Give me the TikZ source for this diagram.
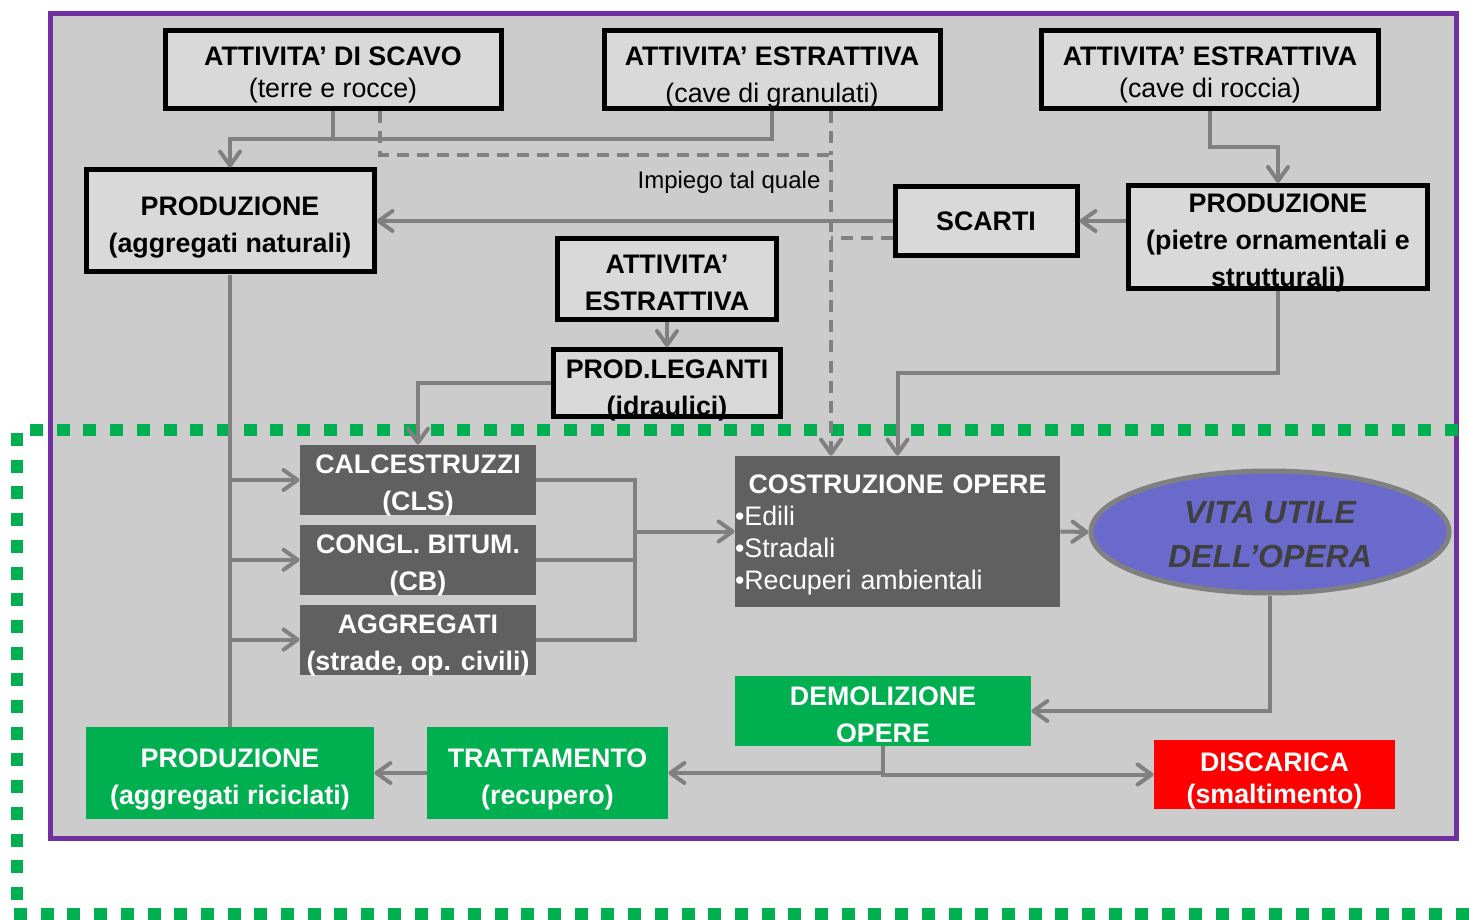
\documentclass[tikz,border=0pt]{standalone}
\usepackage{fontspec}
\setmainfont{Liberation Sans}
\usetikzlibrary{positioning}
\usetikzlibrary{shapes.geometric}
\usetikzlibrary{arrows.meta}

\definecolor{bggray}{HTML}{CCCCCC}
\definecolor{boxgray}{HTML}{D9D9D9}
\definecolor{cementgray}{HTML}{606060}
\definecolor{linegray}{HTML}{808080}
\definecolor{framepurple}{HTML}{7030A0}
\definecolor{recgreen}{HTML}{00B050}
\definecolor{opblue}{HTML}{6A6ACC}
\definecolor{optext}{HTML}{404040}

\begin{document}
\begin{tikzpicture}[x=0.5pt, y=-0.5pt,
        every node/.style={inner sep=0pt, align=center,
                           font=\fontsize{13.4}{18.5}\selectfont\bfseries},
        lightbox/.style={draw=black, line width=2.5pt, fill=boxgray},
        darkbox/.style={fill=cementgray, text=white,
                        text height=30.6pt, text depth=0pt,
                        minimum width=118pt, minimum height=35pt},
        greenbox/.style={fill=recgreen, text=white},
        link/.style={draw=linegray, line width=2pt},
        flow/.style={link, -{Straight Barb[length=7pt,width=10pt,round]}},
        dashlink/.style={link, dash pattern=on 6pt off 4pt},
        dashflow/.style={flow, dash pattern=on 6pt off 4pt},
        greendots/.style={draw=recgreen, line width=6pt,
                          dash pattern=on 6.5pt off 6.85pt}]

        \useasboundingbox (0,0) rectangle (1469,920);
        \draw [framepurple, line width=2.5pt, fill=bggray] (50,14) rectangle (1456,838);

        \draw [greendots] (30,430) -- (1460,430);
        \draw [greendots] (17,433) -- (17,905);
        \draw [greendots] (14,914) -- (1469,914);

        \node (scavo) at (333,70) [lightbox,
                         minimum width=168pt,
                         minimum height=39pt,
                         text height=27.6pt, text depth=0pt,
                         ] {ATTIVITA’ DI SCAVO\\[-2.5pt]\mdseries (terre e rocce)};
        \node (granulati) at (772,70) [lightbox,
                         minimum width=168pt,
                         minimum height=39pt,
                         text height=32.1pt, text depth=0pt,
                         ] {ATTIVITA’ ESTRATTIVA\\\mdseries (cave di granulati)};
        \node (roccia) at (1210,70) [lightbox,
                         minimum width=168.5pt,
                         minimum height=39pt,
                         text height=27.6pt, text depth=0pt,
                         ] {ATTIVITA’ ESTRATTIVA\\[-2.5pt]\mdseries (cave di roccia)};

        \node (prodnat) at (230,221) [lightbox,
                         minimum width=144pt,
                         minimum height=51pt,
                         text height=31.1pt, text depth=0pt,
                         ] {PRODUZIONE\\(aggregati naturali)};
        \node (scarti) at (986,221) [lightbox,
                         minimum width=91pt,
                         minimum height=34.5pt,
                         ] {SCARTI};
        \node (prodpietre) at (1278,237) [lightbox,
                         minimum width=149.5pt,
                         minimum height=51.5pt,
                         text height=49.6pt, text depth=0pt,
                         ] {PRODUZIONE\\(pietre ornamentali e\\strutturali)};
        \node (impiego) at (729,182) [font=\fontsize{12}{14}\selectfont] {Impiego tal quale};

        \node (attestr) at (667,279) [lightbox,
                         minimum width=109.5pt,
                         minimum height=40.5pt,
                         text height=31.6pt, text depth=0pt,
                         ] {ATTIVITA’\\ESTRATTIVA};
        \node (leganti) [lightbox,
                         minimum width=113.5pt,
                         minimum height=33.5pt,
                         below=12.5pt of attestr,
                         text height=32.1pt, text depth=0pt,
                         ] {PROD.LEGANTI\\(idraulici)};

        \node (cls) at (418,480) [darkbox] {CALCESTRUZZI\\(CLS)};
        \node (cb) [darkbox, below=4.5pt of cls] {CONGL. BITUM.\\(CB)};
        \node (aggr) [darkbox, below=4.5pt of cb] {AGGREGATI\\(strade, op. civili)};

        \node (costr) at (897.5,531.5) [fill=cementgray, text=white,
                         minimum width=162.5pt,
                         minimum height=75.5pt,
                         text width=162.5pt, align=left,
                         text height=13pt,
                         font=\fontsize{13.4}{16}\selectfont,
                         ] {\makebox[162.5pt]{\bfseries COSTRUZIONE OPERE}\\•Edili\\•Stradali\\•Recuperi ambientali};
        \node (vita) at (1270,532) [ellipse, draw=linegray, line width=2.5pt,
                         fill=opblue, text=optext,
                         minimum width=179pt,
                         minimum height=61pt,
                         text height=35.5pt, text depth=0pt,
                         font=\fontsize{16}{22}\selectfont\bfseries\itshape,
                         ] {VITA UTILE\\DELL’OPERA};

        \node (demol) at (883,711) [greenbox,
                         minimum width=148pt,
                         minimum height=35pt,
                         text height=31.6pt, text depth=0pt,
                         ] {DEMOLIZIONE\\OPERE};
        \node (discarica) at (1274.5,774.5) [fill=red, text=white,
                         minimum width=120.5pt,
                         minimum height=34.5pt,
                         text height=28.6pt, text depth=0pt,
                         ] {DISCARICA\\[-2.5pt](smaltimento)};
        \node (prodric) at (230,773) [greenbox,
                         minimum width=144pt,
                         minimum height=46pt,
                         text height=31.6pt, text depth=0pt,
                         ] {PRODUZIONE\\(aggregati riciclati)};
        \node (tratt) at (547.5,773) [greenbox,
                         minimum width=120.5pt,
                         minimum height=46pt,
                         text height=31.6pt, text depth=0pt,
                         ] {TRATTAMENTO\\(recupero)};

        \coordinate (j1) at (230,139);
        \draw [link] (scavo.south) -- (scavo.south |- j1);
        \draw [flow] (granulati.south) |- (j1) -- (prodnat.north);

        \coordinate (d1) at (380,155);
        \coordinate (d2) at (831,155);
        \coordinate (d3) at (831,238);
        \draw [dashflow] (scavo.south -| d1) -- (d1) -- (d2) -- (d2 |- costr.north);
        \draw [dashlink] (granulati.south -| d2) -- (d2);
        \draw [dashlink] (d3 -| scarti.west) -- (d3);

        \draw [flow] (scarti.west) -- (prodnat.east);
        \draw [flow] (prodpietre.west |- scarti.east) -- (scarti.east);
        \coordinate (j2) at (1278,147);
        \draw [flow] (roccia.south) |- (j2) -- (prodpietre.north);
        \coordinate (j3) at (897.5,373);
        \draw [flow] (prodpietre.south) |- (j3) -- (costr.north);

        \draw [flow] (attestr) -- (leganti);
        \draw [flow] (leganti.west) -| (cls.north);

        \draw [link] (prodnat.south) -- (prodric.north);
        \foreach \n in {cls, cb, aggr}
            \draw [flow] (\n.west -| prodnat.south) -- (\n.west);

        \coordinate (bus) at (635,531.5);
        \draw [link] (cls.east) -| (bus |- aggr.east) -- (aggr.east);
        \draw [link] (cb.east) -- (cb.east -| bus);
        \draw [flow] (bus) -- (costr.west);
        \draw [flow] (costr.east) -- (vita.west);

        \draw [flow] (vita.south) |- (demol.east);
        \draw [flow] (demol.south) |- (tratt.east);
        \draw [flow] (demol.south) |- (discarica.west);
        \draw [flow] (tratt.west) -- (prodric.east);

    \end{tikzpicture}
\end{document}
